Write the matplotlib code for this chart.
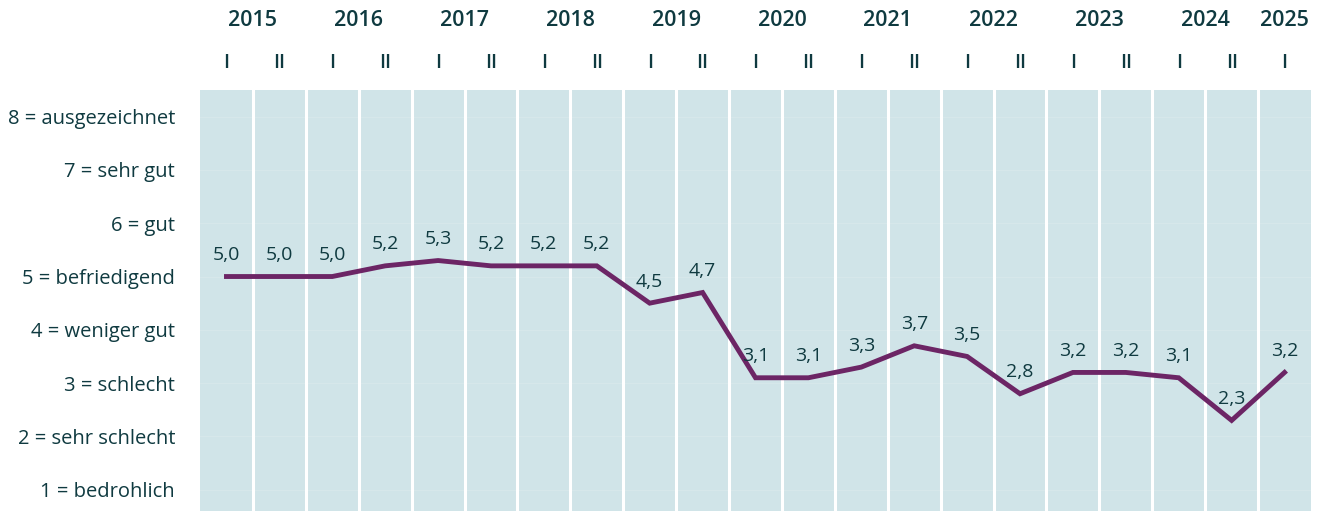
import matplotlib
matplotlib.use("Agg")
import matplotlib.pyplot as plt
import matplotlib.transforms as mtransforms

# data
years = ["2015", "2016", "2017", "2018", "2019", "2020", "2021", "2022", "2023", "2024", "2025"]
halves = ["I", "II", "I", "II", "I", "II", "I", "II", "I", "II",
          "I", "II", "I", "II", "I", "II", "I", "II", "I", "II", "I"]
values = [5.0, 5.0, 5.0, 5.2, 5.3, 5.2, 5.2, 5.2, 4.5, 4.7,
          3.1, 3.1, 3.3, 3.7, 3.5, 2.8, 3.2, 3.2, 3.1, 2.3, 3.2]
scale_labels = ["1 = bedrohlich", "2 = sehr schlecht", "3 = schlecht", "4 = weniger gut",
                "5 = befriedigend", "6 = gut", "7 = sehr gut", "8 = ausgezeichnet"]

txt_col = "#0f3a40"
bg_col = "#d0e4e8"
line_col = "#6c2565"

plt.rcParams['font.family'] = ['Open Sans', 'DejaVu Sans']

fig = plt.figure(figsize=(13.28, 5.11), dpi=100)
ax = fig.add_axes([200/1328, 0, (1311-200)/1328, (511-90)/511])
ax.set_facecolor(bg_col)

n = len(values)
x = list(range(n))
ax.set_xlim(-0.5, n - 0.5)
ax.set_ylim(0.6, 8.5)

# faint horizontal lines
for lv in range(1, 9):
    ax.axhline(lv, color="#d7e8eb", lw=0.7, zorder=1)

# white separators
for i in range(n - 1):
    ax.axvline(i + 0.5, color="white", lw=2.2, zorder=2)

ax.plot(x, values, color=line_col, lw=3.5, zorder=3, solid_joinstyle="miter")

for xi, v in zip(x, values):
    ax.annotate(f"{v:.1f}".replace(".", ","), (xi, v), xytext=(0, 9),
                textcoords="offset points", ha="center", va="bottom",
                fontsize=14, color=txt_col, zorder=4)

ax.set_yticks(range(1, 9))
ax.set_yticklabels(scale_labels, fontsize=14.5, color=txt_col)
ax.tick_params(axis="y", length=0, pad=18)
ax.set_xticks([])
for s in ax.spines.values():
    s.set_visible(False)

trans = mtransforms.blended_transform_factory(ax.transData, fig.transFigure)
for i, h in enumerate(halves):
    ax.text(i, 1 - 63/511, h, transform=trans, ha="center", va="center",
            fontsize=14, fontweight="semibold", color=txt_col, clip_on=False)
for j, yr in enumerate(years):
    xc = 2*j + 0.5 if 2*j + 1 < n else 2*j
    ax.text(xc, 1 - 20/511, yr, transform=trans, ha="center", va="center",
            fontsize=15.5, fontweight="semibold", color=txt_col, clip_on=False)

fig.savefig("out.png", dpi=100)
